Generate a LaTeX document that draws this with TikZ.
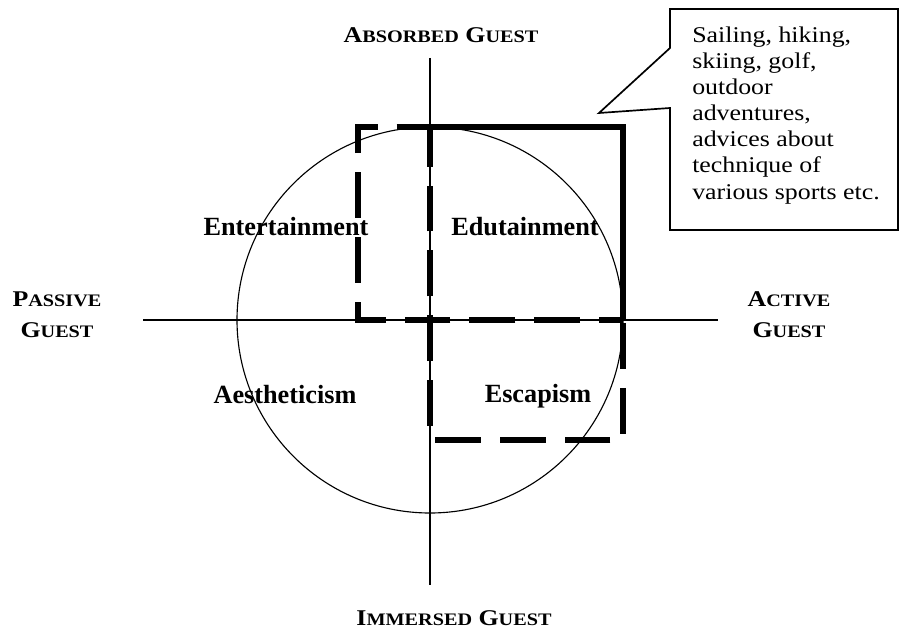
\documentclass[tikz,border=0pt]{standalone}
\usepackage{fontspec}
\setmainfont{Liberation Serif}
\newfontfamily\widefont[FakeStretch=1.15]{Liberation Serif}
\newcommand\capword[2]{#1{\fontsize{12.5}{15}\selectfont #2}}
\tikzset{
  quadrant/.style={font=\fontsize{18.67}{22}\selectfont\bfseries, anchor=base, inner sep=0pt},
  pole/.style={font=\widefont\fontsize{16}{22}\selectfont\bfseries, anchor=base, inner sep=0pt, align=center},
  zone/.style={line width=3.9pt, dash pattern=on 32.6pt off 13.5pt},
  axis/.style={line width=1pt},
}
\begin{document}
\begin{tikzpicture}[x=0.025cm, y=-0.025cm]
\useasboundingbox (0,0) rectangle (899,630);
\coordinate (origin) at (430,320);
\coordinate (west) at (143,320);
\coordinate (east) at (718,320);
\coordinate (north) at (430,58);
\coordinate (south) at (430,585);
\coordinate (tip) at (599,113);
% axes and circle
\draw[axis] (west) -- (east);
\draw[axis] (north) -- (south);
\draw[line width=0.8pt] (origin) circle[radius=193];
% dashed zones
\draw[zone, dash phase=15.6pt] (623,320) -- (358,320) -- (358,127) -- (623,127) -- cycle;
\draw[zone] (430,127) -- (623,127) -- (623,440) -- (430,440) -- cycle;
% quadrant labels
\node[quadrant] (entertain) at (286,235) {Entertainment};
\node[quadrant] (edutain) at (525,235) {Edutainment};
\node[quadrant] (esthetic) at (285,403) {Aestheticism};
\node[quadrant] (escape) at (538,402) {Escapism};
% pole labels (base = last line)
\node[pole] (absorbed) at (441,43) {\capword{A}{BSORBED} \capword{G}{UEST}};
\node[pole] (immersed) at (454,625) {\capword{I}{MMERSED} \capword{G}{UEST}};
\node[pole] (passive) at (57,337) {\capword{P}{ASSIVE}\\\capword{G}{UEST}};
\node[pole] (active) at (789,337) {\capword{A}{CTIVE}\\\capword{G}{UEST}};
% callout
\draw[line width=1.2pt] (670,9) -- (898,9) -- (898,230) -- (670,230) -- (670,108) -- (tip) -- (670,48) -- cycle;
\node[font=\widefont\fontsize{16}{18.6}\selectfont, align=left, anchor=base west, inner sep=0pt] (note) at (692,199)
  {Sailing, hiking,\\skiing, golf,\\outdoor\\adventures,\\advices about\\technique of\\various sports etc.};
\end{tikzpicture}
\end{document}
